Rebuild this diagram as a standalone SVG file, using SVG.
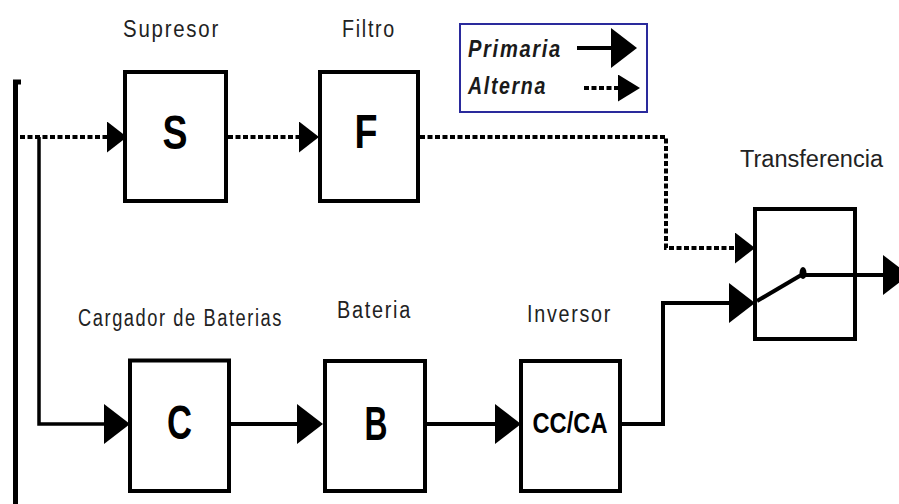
<svg xmlns="http://www.w3.org/2000/svg" width="899" height="504" viewBox="0 0 899 504">
<style>
.box{fill:none;stroke:#000;stroke-width:4}
.lbl{font-family:"Liberation Sans",Arial,sans-serif;font-size:23px;letter-spacing:2px;fill:#222;text-anchor:middle}
.big{font-family:"Liberation Sans",Arial,sans-serif;font-weight:bold;font-size:48px;fill:#000;text-anchor:middle}
.leg{font-family:"Liberation Sans",Arial,sans-serif;font-weight:bold;font-style:italic;font-size:24px;letter-spacing:2px;fill:#1a1a1a}
.solid{fill:none;stroke:#000;stroke-width:4}
.dot{fill:none;stroke:#000;stroke-width:4;stroke-dasharray:5 2.5}
</style>
<defs>
<marker id="aL" markerUnits="userSpaceOnUse" markerWidth="26" markerHeight="40" viewBox="0 0 26 40" refX="22" refY="20" orient="auto"><path d="M0,0 L26,20 L0,40 Z" fill="#000"/></marker>
<marker id="aM" markerUnits="userSpaceOnUse" markerWidth="20" markerHeight="31" viewBox="0 0 20 31" refX="16" refY="15.5" orient="auto"><path d="M0,0 L20,15.5 L0,31 Z" fill="#000"/></marker>
<marker id="aS" markerUnits="userSpaceOnUse" markerWidth="22" markerHeight="27" viewBox="0 0 22 27" refX="18" refY="13.5" orient="auto"><path d="M0,0 L22,13.5 L0,27 Z" fill="#000"/></marker>
</defs>

<g id="connectors">
<path d="M21,82 H15.5 V504" fill="none" stroke="#000" stroke-width="5"/>
<path class="dot" d="M20,137 H123" marker-end="url(#aM)"/>
<path d="M39,137 V424 H126" fill="none" stroke="#000" stroke-width="3.5" marker-end="url(#aL)"/>
<path class="dot" d="M228,137 H315" marker-end="url(#aM)"/>
<path class="dot" d="M420,137 H666 V248 H751" marker-end="url(#aM)"/>
<path class="solid" d="M231,424 H319" marker-end="url(#aL)"/>
<path class="solid" d="M427,424 H517" marker-end="url(#aL)"/>
<path class="solid" d="M622,424 H663 V303 H751" marker-end="url(#aL)"/>
<path class="solid" d="M757,301 L803,274"/>
<ellipse cx="803" cy="273" rx="3.5" ry="6" fill="#000"/>
<path class="solid" d="M803,275 H905" marker-end="url(#aL)"/>
</g>

<g id="node-S">
<rect class="box" x="125" y="72" width="101" height="129"/>
<text class="big" x="175" y="149" textLength="25" lengthAdjust="spacingAndGlyphs">S</text>
<text class="lbl" x="171.5" y="37" textLength="97" lengthAdjust="spacingAndGlyphs">Supresor</text>
</g>
<g id="node-F">
<rect class="box" x="320" y="72" width="98" height="129"/>
<text class="big" x="366" y="148" textLength="23" lengthAdjust="spacingAndGlyphs">F</text>
<text class="lbl" x="369" y="37" textLength="54" lengthAdjust="spacingAndGlyphs">Filtro</text>
</g>
<g id="node-T">
<rect class="box" x="755" y="209" width="100" height="130"/>
<text x="740" y="167" style="font-family:'Liberation Sans',Arial,sans-serif;font-size:23px;fill:#222" textLength="143" lengthAdjust="spacingAndGlyphs">Transferencia</text>
</g>
<g id="node-C">
<rect class="box" x="130" y="360.5" width="99" height="130.5"/>
<text class="big" x="179.5" y="439" textLength="25" lengthAdjust="spacingAndGlyphs">C</text>
<text class="lbl" x="180.5" y="326" textLength="205" lengthAdjust="spacingAndGlyphs">Cargador de Baterias</text>
</g>
<g id="node-B">
<rect class="box" x="325" y="361" width="100" height="130"/>
<text class="big" x="376" y="440" textLength="23" lengthAdjust="spacingAndGlyphs">B</text>
<text class="lbl" x="374.5" y="318" textLength="75" lengthAdjust="spacingAndGlyphs">Bateria</text>
</g>
<g id="node-I">
<rect class="box" x="521" y="361" width="99" height="130"/>
<text class="big" x="570" y="433" style="font-size:29px" textLength="75" lengthAdjust="spacingAndGlyphs">CC/CA</text>
<text class="lbl" x="569.5" y="322" textLength="85" lengthAdjust="spacingAndGlyphs">Inversor</text>
</g>
<g id="legend">
<rect x="460" y="24" width="187" height="88" fill="#fff" stroke="#2a2a9c" stroke-width="2"/>
<text class="leg" x="468" y="57" textLength="94" lengthAdjust="spacingAndGlyphs">Primaria</text>
<text class="leg" x="468" y="94" textLength="79" lengthAdjust="spacingAndGlyphs">Alterna</text>
<path class="solid" d="M577,48 H633" marker-end="url(#aL)"/>
<path class="dot" d="M584,88 H636" marker-end="url(#aS)"/>
</g>
</svg>
